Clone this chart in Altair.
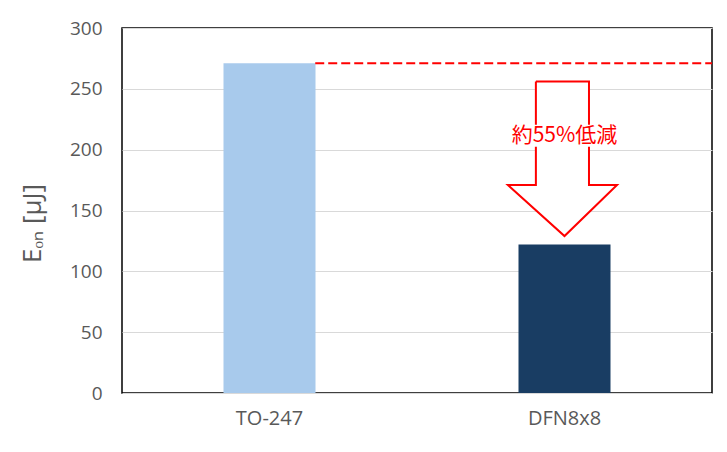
import altair as alt
import pandas as pd

# ---- data ----
categories = ["TO-247", "DFN8x8"]
eon_values = [271, 122]
bar_colors = ["#a8caec", "#193d63"]

# overlay annotation (overlay x scale 0..2, category centres at 0.5 and 1.5)
ref_x_start = [0.655]
ref_x_end = [2.0]
ref_y = [271]

arrow_x = [1.403, 1.583, 1.583, 1.678, 1.5, 1.308, 1.403, 1.403]
arrow_y = [256, 256, 171, 171, 129, 171, 171, 256]
shaft_x = [1.403, 1.583]
shaft_y = [171, 256]
head_x = [1.308, 1.5, 1.678]
head_y = [171, 129, 171]
head_base = [171, 171, 171]

label_text = ["約55%低減"]
label_x = [1.5]
label_y = [211]
label_box_x = [1.31, 1.805]
label_box_y = [202.5, 220.5]

RED = "#ff0000"
GREY_TXT = "#595959"
LABEL_FONT = "Open Sans"
JP_FONT = "Noto Sans CJK JP"

bars_df = pd.DataFrame({"cat": categories, "eon": eon_values})

yscale = alt.Scale(domain=[0, 300])
ox = alt.Scale(domain=[0, 2])

bars = alt.Chart(bars_df).mark_bar(size=92).encode(
    x=alt.X("cat:N", sort=categories,
            scale=alt.Scale(paddingInner=0, paddingOuter=0),
            axis=alt.Axis(title=None, labelAngle=0, labelFontSize=20,
                          labelPadding=15, labelColor=GREY_TXT,
                          labelFont=LABEL_FONT, ticks=False, domain=False,
                          grid=False)),
    y=alt.Y("eon:Q", scale=yscale,
            axis=alt.Axis(values=[0, 50, 100, 150, 200, 250, 300],
                          title="Eₒₙ [μJ]", titleFontSize=26,
                          titleFont=LABEL_FONT, titleFontWeight="normal",
                          titleColor=GREY_TXT, titleY=195, titlePadding=24,
                          labelFontSize=19, labelColor=GREY_TXT,
                          labelFont=LABEL_FONT, labelPadding=20,
                          ticks=False, domain=False, grid=True,
                          gridColor="#d9d9d9", gridWidth=1)),
    color=alt.Color("cat:N", scale=alt.Scale(domain=categories, range=bar_colors),
                    legend=None),
)

ref_df = pd.DataFrame({"x": ref_x_start, "x2": ref_x_end, "y": ref_y})
ref_line = alt.Chart(ref_df).mark_rule(color=RED, strokeWidth=2,
                                       strokeDash=[9, 4]).encode(
    x=alt.X("x:Q", scale=ox, axis=None),
    x2="x2:Q",
    y=alt.Y("y:Q", scale=yscale),
)

shaft_df = pd.DataFrame({"x": [shaft_x[0]], "x2": [shaft_x[1]],
                         "y": [shaft_y[0]], "y2": [shaft_y[1]]})
shaft = alt.Chart(shaft_df).mark_rect(color="white").encode(
    x=alt.X("x:Q", scale=ox, axis=None), x2="x2:Q",
    y=alt.Y("y:Q", scale=yscale), y2="y2:Q",
)

head_df = pd.DataFrame({"x": head_x, "y": head_y, "y2": head_base})
head = alt.Chart(head_df).mark_area(color="white", opacity=1).encode(
    x=alt.X("x:Q", scale=ox, axis=None),
    y=alt.Y("y:Q", scale=yscale), y2="y2:Q",
)

arrow_df = pd.DataFrame({"x": arrow_x, "y": arrow_y, "i": list(range(len(arrow_x)))})
outline = alt.Chart(arrow_df).mark_line(color=RED, strokeWidth=2,
                                        strokeJoin="miter").encode(
    x=alt.X("x:Q", scale=ox, axis=None),
    y=alt.Y("y:Q", scale=yscale),
    order="i:Q",
)

box_df = pd.DataFrame({"x": [label_box_x[0]], "x2": [label_box_x[1]],
                       "y": [label_box_y[0]], "y2": [label_box_y[1]]})
box = alt.Chart(box_df).mark_rect(color="white").encode(
    x=alt.X("x:Q", scale=ox, axis=None), x2="x2:Q",
    y=alt.Y("y:Q", scale=yscale), y2="y2:Q",
)

txt_df = pd.DataFrame({"x": label_x, "y": label_y, "t": label_text})
txt = alt.Chart(txt_df).mark_text(color=RED, fontSize=21, font=JP_FONT,
                                  align="center", baseline="middle").encode(
    x=alt.X("x:Q", scale=ox, axis=None),
    y=alt.Y("y:Q", scale=yscale),
    text="t:N",
)

chart = alt.layer(bars, ref_line, shaft, head, outline, box, txt).resolve_scale(
    x="independent"
).properties(
    width=590, height=365,
    padding={"left": 114, "top": 20, "right": 5, "bottom": 40},
    autosize=alt.AutoSizeParams(type="none"),
    background="white",
).configure_view(
    stroke="black", strokeWidth=1.5
)

chart.save("out.html", embed_options={"renderer": "svg", "actions": False})
